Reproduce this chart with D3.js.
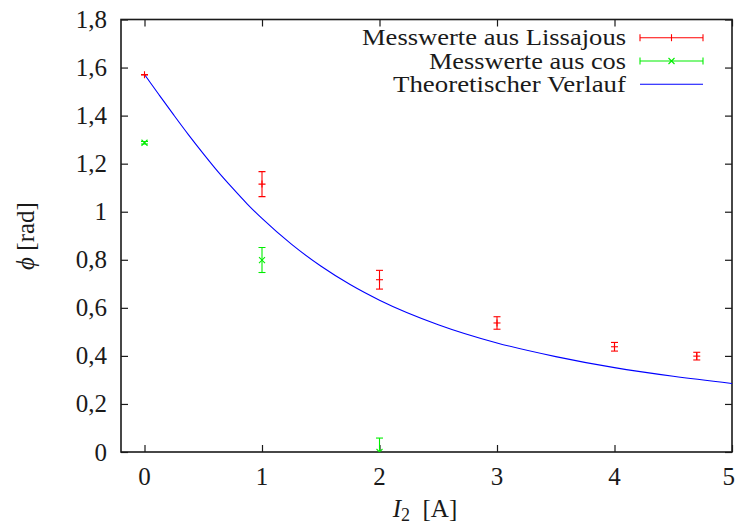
<!DOCTYPE html>
<html>
<head>
<meta charset="utf-8">
<script src="https://cdn.jsdelivr.net/npm/d3@7"></script>
<style>
  body { margin: 0; background: #fff; }
</style>
</head>
<body>
<div id="chart"></div>
<script>
// Messwerte aus Lissajous
var lissX = [0, 1, 2, 3, 4, 4.7];
var lissY = [1.57, 1.115, 0.717, 0.537, 0.438, 0.399];
var lissErr = [0, 0.052, 0.039, 0.026, 0.018, 0.016];

// Messwerte aus cos
var cosX = [0, 1, 2];
var cosY = [1.287, 0.799, 0.0];
var cosErr = [0.005, 0.052, 0.058];

// Theoretischer Verlauf
var theoX = [0, 0.125, 0.25, 0.375, 0.5, 0.625, 0.75, 0.875, 1, 1.25, 1.5, 1.75, 2, 2.5, 3, 3.5, 4, 4.5, 5];
var theoY = [1.571, 1.486, 1.402, 1.320, 1.242, 1.167, 1.098, 1.032, 0.972, 0.865, 0.774, 0.697, 0.632, 0.530, 0.454, 0.397, 0.351, 0.315, 0.285];

var xTicks = [0, 1, 2, 3, 4, 5];
var yTicks = [0, 0.2, 0.4, 0.6, 0.8, 1, 1.2, 1.4, 1.6, 1.8];
var legendLabels = ["Messwerte aus Lissajous", "Messwerte aus cos", "Theoretischer Verlauf"];

var W = 735, H = 526;
var margin = { top: 19.5, right: 3, bottom: 74, left: 121 };
var FONT = "Liberation Serif";

var svg = d3.select("#chart").append("svg")
  .attr("width", W).attr("height", H);

var x = d3.scaleLinear().domain([-0.2, 5]).range([margin.left, W - margin.right]);
var y = d3.scaleLinear().domain([0, 1.8]).range([H - margin.bottom, margin.top]);

var fmt = function (d) { return String(+d.toFixed(1)).replace(".", ","); };

svg.append("clipPath").attr("id", "plotclip")
  .append("rect")
  .attr("x", x.range()[0]).attr("y", y.range()[1])
  .attr("width", x.range()[1] - x.range()[0])
  .attr("height", y.range()[0] - y.range()[1]);

// axes, ticks pointing inward, mirrored on top and right
var tl = 7;
svg.append("g").attr("transform", "translate(0," + y(0) + ")")
  .call(d3.axisBottom(x).tickValues(xTicks).tickSize(-tl).tickFormat(""))
  .call(g => g.select(".domain").remove());
svg.append("g").attr("transform", "translate(0," + y(1.8) + ")")
  .call(d3.axisTop(x).tickValues(xTicks).tickSize(-tl).tickFormat(""))
  .call(g => g.select(".domain").remove());
svg.append("g").attr("transform", "translate(" + x(-0.2) + ",0)")
  .call(d3.axisLeft(y).tickValues(yTicks).tickSize(-tl).tickFormat(""))
  .call(g => g.select(".domain").remove());
svg.append("g").attr("transform", "translate(" + x(5) + ",0)")
  .call(d3.axisRight(y).tickValues(yTicks).tickSize(-tl).tickFormat(""))
  .call(g => g.select(".domain").remove());
svg.selectAll(".tick line").attr("stroke", "#1a1a1a").attr("stroke-width", 1.2);

svg.append("rect")
  .attr("x", x(-0.2)).attr("y", y(1.8))
  .attr("width", x(5) - x(-0.2)).attr("height", y(0) - y(1.8))
  .attr("fill", "none").attr("stroke", "#1a1a1a").attr("stroke-width", 1.6);

// tick labels
svg.selectAll(".ylab").data(yTicks).enter().append("text")
  .style("font-family", FONT).attr("fill", "#1a1a1a")
  .attr("x", 107).attr("y", d => y(d))
  .attr("text-anchor", "end").attr("dominant-baseline", "central")
  .attr("font-size", 25).text(fmt);
svg.selectAll(".xlab").data(xTicks).enter().append("text")
  .style("font-family", FONT).attr("fill", "#1a1a1a")
  .attr("x", d => d === 5 ? W : x(d)).attr("y", 476)
  .attr("text-anchor", d => d === 5 ? "end" : "middle").attr("dominant-baseline", "central")
  .attr("font-size", 25).text(fmt);

// axis titles
var xt = svg.append("text").attr("x", 425).attr("y", 517)
  .style("font-family", FONT).attr("fill", "#1a1a1a")
  .attr("text-anchor", "middle").attr("font-size", 25);
xt.append("tspan").attr("font-style", "italic").text("I");
xt.append("tspan").attr("font-size", 18).attr("dy", 4).text("2");
xt.append("tspan").attr("dy", -4).text("\u2002[A]");

var yt = svg.append("text")
  .style("font-family", FONT).attr("fill", "#1a1a1a")
  .attr("transform", "translate(34,236) rotate(-90)")
  .attr("text-anchor", "middle").attr("font-size", 25);
yt.append("tspan").attr("font-style", "italic").text("\u03D5");
yt.append("tspan").text(" [rad]");

var plot = svg.append("g").attr("clip-path", "url(#plotclip)");

// theoretical curve
var theo = theoX.map((d, i) => [d, theoY[i]]);
plot.append("path").datum(theo)
  .attr("fill", "none").attr("stroke", "#0000ff").attr("stroke-width", 1.1)
  .attr("d", d3.line().x(d => x(d[0])).y(d => y(d[1])).curve(d3.curveMonotoneX));

function errorBars(g, xs, ys, es, color, marker) {
  var cap = 3.5, m = 3.5;
  xs.forEach(function (xv, i) {
    var cx = x(xv), cy = y(ys[i]), t = y(ys[i] + es[i]), b = y(ys[i] - es[i]);
    var gg = g.append("g").attr("stroke", color).attr("stroke-width", 1.1);
    gg.append("line").attr("x1", cx).attr("x2", cx).attr("y1", t).attr("y2", b);
    gg.append("line").attr("x1", cx - cap).attr("x2", cx + cap).attr("y1", t).attr("y2", t);
    gg.append("line").attr("x1", cx - cap).attr("x2", cx + cap).attr("y1", b).attr("y2", b);
    if (marker === "plus") {
      gg.append("line").attr("x1", cx - m).attr("x2", cx + m).attr("y1", cy).attr("y2", cy);
      gg.append("line").attr("x1", cx).attr("x2", cx).attr("y1", cy - m).attr("y2", cy + m);
    } else {
      gg.append("line").attr("x1", cx - m + 0.5).attr("x2", cx + m - 0.5).attr("y1", cy - m + 0.5).attr("y2", cy + m - 0.5);
      gg.append("line").attr("x1", cx - m + 0.5).attr("x2", cx + m - 0.5).attr("y1", cy + m - 0.5).attr("y2", cy - m + 0.5);
    }
  });
}
errorBars(plot, lissX, lissY, lissErr, "#ff0000", "plus");
errorBars(plot, cosX, cosY, cosErr, "#00ee00", "cross");

// legend
var legY = [37.7, 61, 84.3];
var legW = [264, 197, 233];
var legColors = ["#ff0000", "#00ee00", "#0000ff"];
var lx0 = 640, lx1 = 703;
legendLabels.forEach(function (lab, i) {
  svg.append("text").attr("x", 626).attr("y", legY[i])
    .style("font-family", FONT).attr("fill", "#1a1a1a")
    .attr("text-anchor", "end").attr("dominant-baseline", "central")
    .attr("font-size", 23)
    .attr("textLength", legW[i]).attr("lengthAdjust", "spacingAndGlyphs")
    .text(lab);
  var g = svg.append("g").attr("stroke", legColors[i]).attr("stroke-width", 1.1);
  g.append("line").attr("x1", lx0).attr("x2", lx1).attr("y1", legY[i]).attr("y2", legY[i]);
  if (i < 2) {
    [lx0, lx1].forEach(function (px) {
      g.append("line").attr("x1", px).attr("x2", px).attr("y1", legY[i] - 3.5).attr("y2", legY[i] + 3.5);
    });
    var mx = (lx0 + lx1) / 2;
    if (i === 0) {
      g.append("line").attr("x1", mx).attr("x2", mx).attr("y1", legY[i] - 3.5).attr("y2", legY[i] + 3.5);
    } else {
      g.append("line").attr("x1", mx - 3).attr("x2", mx + 3).attr("y1", legY[i] - 3).attr("y2", legY[i] + 3);
      g.append("line").attr("x1", mx - 3).attr("x2", mx + 3).attr("y1", legY[i] + 3).attr("y2", legY[i] - 3);
    }
  }
});
</script>
</body>
</html>
